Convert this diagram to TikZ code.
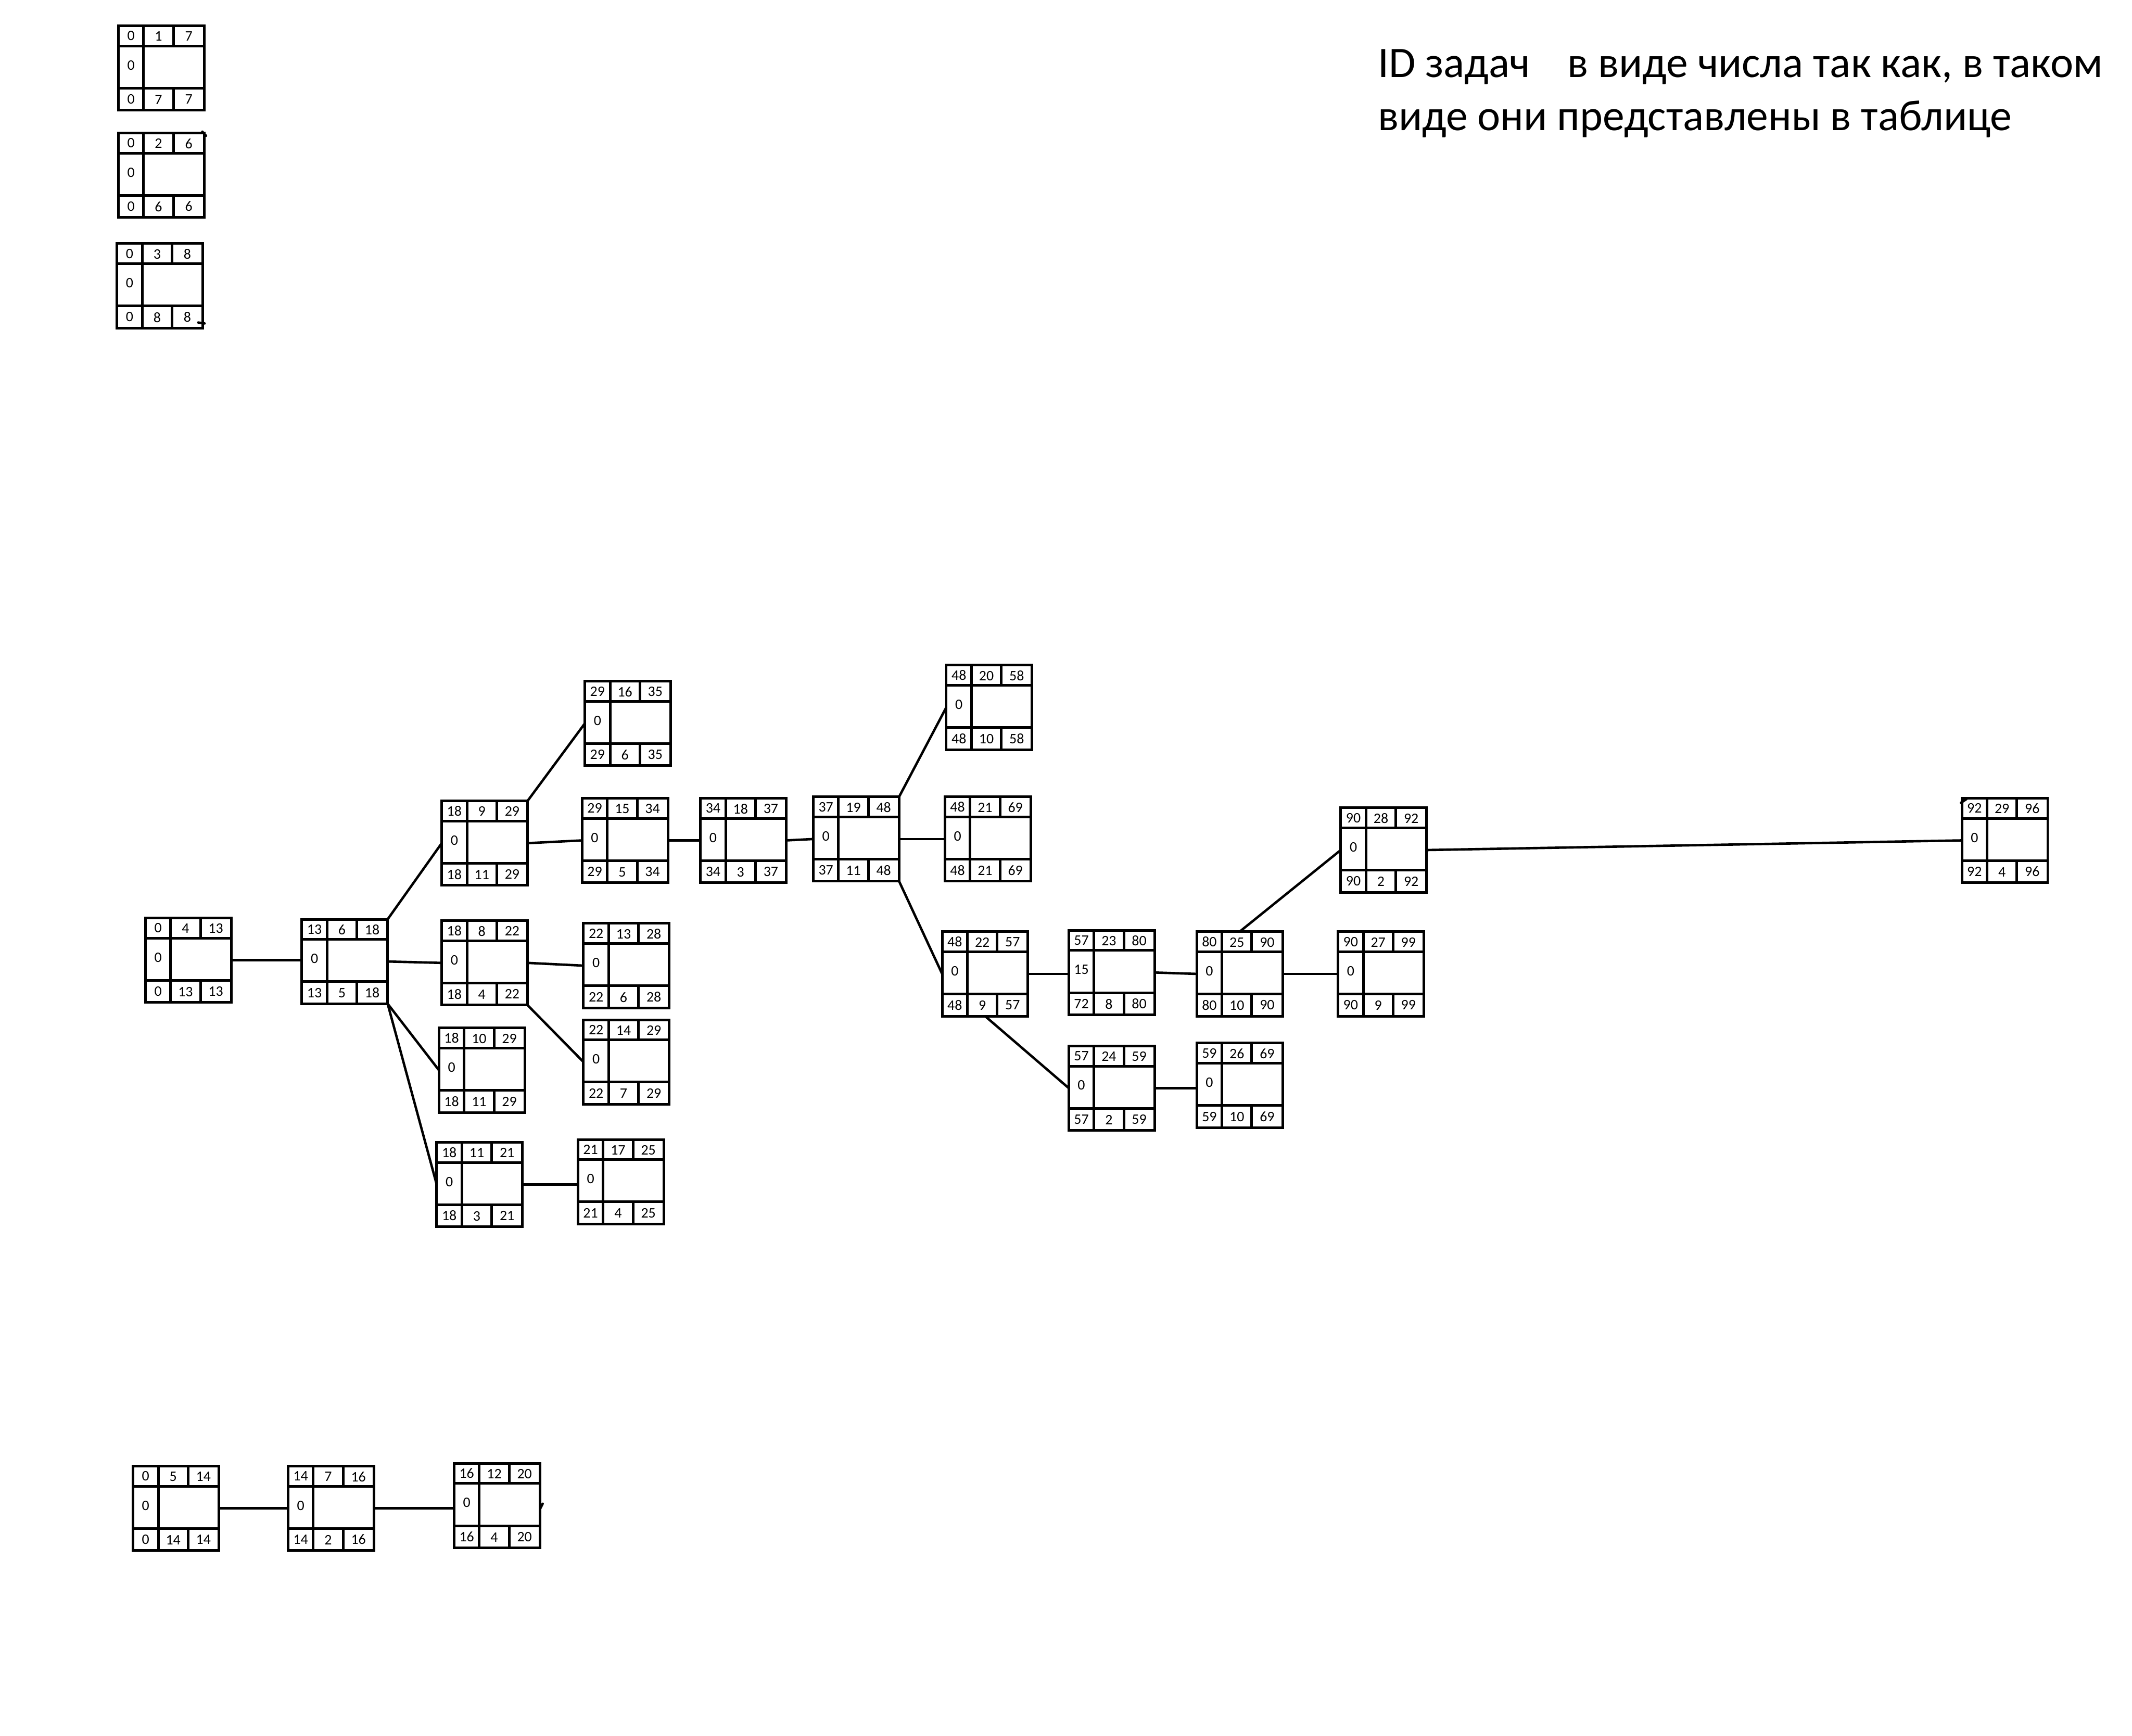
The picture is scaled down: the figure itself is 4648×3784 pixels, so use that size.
\documentclass[tikz,border=0pt]{standalone}
\usepackage{fontspec}
\setmainfont{Carlito}
\usetikzlibrary{calc}
\tikzset{
 box/.style={draw, line width=1.6pt, minimum width=1.87cm, minimum height=1.84cm, inner sep=0pt, outer sep=0pt},
 ln/.style={line width=1.6pt},
 num/.style={font=\fontsize{9}{10}\selectfont, inner sep=0pt},
 conn/.style={line width=1.5pt},
 tick/.style={line width=1.5pt, line cap=round},
 head/.style={font=\fontsize{27}{32}\selectfont, inner sep=0pt, anchor=base west}
}
\newcommand{\tb}[9]{%
 \node[box, anchor=north west] (#1) at #2 {};
 \draw[ln] ($(#1.north west)+(0,44)$) -- ($(#1.north east)+(0,44)$);
 \draw[ln] ($(#1.south west)+(0,-48)$) -- ($(#1.south east)+(0,-48)$);
 \draw[ln] ($(#1.north west)+(55,0)$) -- ($(#1.south west)+(55,0)$);
 \draw[ln] ($(#1.north west)+(120,0)$) -- ($(#1.north west)+(120,44)$);
 \draw[ln] ($(#1.south west)+(120,0)$) -- ($(#1.south west)+(120,-48)$);
 \node[num] (#1ta) at ($(#1.north west)+(27.5,22)$) {#3};
 \node[num] (#1tb) at ($(#1.north west)+(87.5,23)$) {#4};
 \node[num] (#1tc) at ($(#1.north west)+(153.5,23)$) {#5};
 \node[num] (#1m) at ($(#1.north west)+(27.5,86)$) {#6};
 \node[num] (#1ba) at ($(#1.south west)+(27.5,-24)$) {#7};
 \node[num] (#1bb) at ($(#1.south west)+(87.5,-23)$) {#8};
 \node[num] (#1bc) at ($(#1.south west)+(153.5,-24)$) {#9};
}
\begin{document}
\begin{tikzpicture}[x=0.01cm, y=-0.01cm]
\fill[white] (0,0) rectangle (4648,3784);
\useasboundingbox (0,0) rectangle (4648,3784);

\node[head] (h1) at (3003,169) {ID задач\hspace*{23pt}в виде числа так как, в таком};
\node[head] (h2) at (3003,284) {виде они представлены в таблице};

\tb{a1}{(258,56)}{0}{1}{7}{0}{0}{7}{7}
\tb{a2}{(258,290)}{0}{2}{6}{0}{0}{6}{6}
\tb{a3}{(255,531)}{0}{3}{8}{0}{0}{8}{8}

\tb{n1}{(317,2001)}{0}{4}{13}{0}{0}{13}{13}
\tb{n2}{(658,2004)}{13}{6}{18}{0}{13}{5}{18}
\tb{n3}{(963,1746)}{18}{9}{29}{0}{18}{11}{29}
\tb{n4}{(963,2007)}{18}{8}{22}{0}{18}{4}{22}
\tb{n5}{(957,2241)}{18}{10}{29}{0}{18}{11}{29}
\tb{n6}{(952,2490)}{18}{11}{21}{0}{18}{3}{21}
\tb{n7}{(1275,1485)}{29}{16}{35}{0}{29}{6}{35}
\tb{n8}{(1269,1740)}{29}{15}{34}{0}{29}{5}{34}
\tb{n9}{(1272,2013)}{22}{13}{28}{0}{22}{6}{28}
\tb{n10}{(1272,2223)}{22}{14}{29}{0}{22}{7}{29}
\tb{n11}{(1260,2484)}{21}{17}{25}{0}{21}{4}{25}
\tb{n12}{(1527,1740)}{34}{18}{37}{0}{34}{3}{37}
\tb{n13}{(1773,1737)}{37}{19}{48}{0}{37}{11}{48}
\tb{n14}{(2063,1450)}{48}{20}{58}{0}{48}{10}{58}
\tb{n15}{(2060,1737)}{48}{21}{69}{0}{48}{21}{69}
\tb{n16}{(2054,2031)}{48}{22}{57}{0}{48}{9}{57}
\tb{n17}{(2330,2028)}{57}{23}{80}{15}{72}{8}{80}
\tb{n18}{(2330,2280)}{57}{24}{59}{0}{57}{2}{59}
\tb{n19}{(2609,2031)}{80}{25}{90}{0}{80}{10}{90}
\tb{n20}{(2609,2274)}{59}{26}{69}{0}{59}{10}{69}
\tb{n21}{(2923,1761)}{90}{28}{92}{0}{90}{2}{92}
\tb{n22}{(2917,2031)}{90}{27}{99}{0}{90}{9}{99}
\tb{n23}{(4277,1740)}{92}{29}{96}{0}{92}{4}{96}

\tb{b1}{(290,3196)}{0}{5}{14}{0}{0}{14}{14}
\tb{b2}{(628,3196)}{14}{7}{16}{0}{14}{2}{16}
\tb{b3}{(990,3190)}{16}{12}{20}{0}{16}{4}{20}

% small stray pen marks
\draw[tick] ($(a2.north east)+(-4,-3)$) -- ($(a2.north east)+(4,6)$);
\draw[tick] ($(a3.south east)+(-10,-12)$) -- ($(a3.south east)+(4,-10)$);
\draw[tick] ($(b3.east)+(0,8)$) -- ($(b3.east)+(6,-4)$);
\draw[tick] ($(n23.north west)+(-2,10)$) -- ($(n23.north west)+(10,2)$);

\draw[conn] (n1.east) -- (n1.east -| n2.west);
\draw[conn] (n2.north east) -- (n3.west);
\draw[conn] (n2.east) -- (n4.west);
\draw[conn] (n2.south east) -- (n5.west);
\draw[conn] (n2.south east) -- (n6.west);
\draw[conn] (n3.north east) -- (n7.west);
\draw[conn] (n3.east) -- (n8.west);
\draw[conn] (n4.east) -- (n9.west);
\draw[conn] (n4.south east) -- (n10.west);
\draw[conn] (n6.east) -- (n6.east -| n11.west);
\draw[conn] (n8.east) -- (n12.west);
\draw[conn] (n12.east) -- (n13.west);
\draw[conn] (n13.north east) -- (n14.west);
\draw[conn] (n13.east) -- (n15.west);
\draw[conn] (n13.south east) -- (n16.west);
\draw[conn] (n16.east) -- (n16.east -| n17.west);
\draw[conn] (n16.south) -- (n18.west);
\draw[conn] (n17.east) -- (n19.west);
\draw[conn] (n18.east) -- (n18.east -| n20.west);
\draw[conn] (n19.north) -- (n21.west);
\draw[conn] (n19.east) -- (n22.west);
\draw[conn] (n21.east) -- (n23.west);
\draw[conn] (b1.east) -- (b1.east -| b2.west);
\draw[conn] (b2.east) -- (b2.east -| b3.west);
\end{tikzpicture}
\end{document}
